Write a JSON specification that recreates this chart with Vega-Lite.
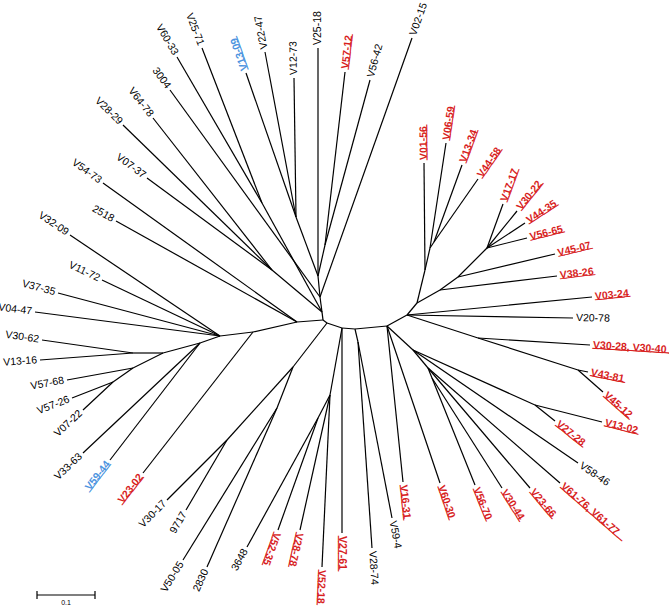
{
  "$schema": "https://vega.github.io/schema/vega-lite/v6.json",
  "width": 669,
  "height": 608,
  "padding": 0,
  "autosize": "none",
  "background": "white",
  "config": {"view": {"stroke": null}},
  "datasets": {
    "nodes": [
      {"id": "P0", "x": -7, "y": 0},
      {"id": "P0b", "parent": "P0", "x": -3, "y": -3},
      {"id": "A1", "parent": "P0b", "x": 12, "y": -8},
      {"id": "A2", "parent": "A1", "x": 25, "y": -9},
      {"id": "A3", "parent": "A2", "x": 57, "y": -6},
      {"id": "A4", "parent": "A3", "x": 77, "y": 5},
      {"id": "A5", "parent": "A4", "x": 87, "y": 17},
      {"id": "UA", "parent": "P0", "x": -8, "y": 8},
      {"id": "UR", "parent": "UA", "x": -10, "y": 23},
      {"id": "UB", "parent": "UR", "x": -12, "y": 44},
      {"id": "U3", "parent": "UB", "x": -34, "y": 103},
      {"id": "U5", "parent": "UB", "x": -5, "y": 75},
      {"id": "U6", "parent": "UA", "x": -68, "y": 117},
      {"id": "U7", "parent": "UA", "x": -58, "y": 50},
      {"id": "V60-33", "label": "V60-33", "parent": "U6", "x": -153, "y": 263},
      {"id": "V25-71", "label": "V25-71", "parent": "U6", "x": -128, "y": 272},
      {"id": "V13-09", "label": "V13-09", "hl": "blue", "parent": "U3", "x": -84, "y": 247},
      {"id": "V22-47", "label": "V22-47", "parent": "U3", "x": -65, "y": 268},
      {"id": "V12-73", "label": "V12-73", "parent": "U3", "x": -36, "y": 242},
      {"id": "V25-18", "label": "V25-18", "parent": "UB", "x": -12, "y": 272},
      {"id": "V57-12", "label": "V57-12", "hl": "red", "parent": "U5", "x": 15, "y": 248},
      {"id": "V56-42", "label": "V56-42", "parent": "U5", "x": 40, "y": 240},
      {"id": "V02-15", "label": "V02-15", "parent": "UR", "x": 82, "y": 282},
      {"id": "3004", "label": "3004", "parent": "UR", "x": -160, "y": 230},
      {"id": "V64-78", "label": "V64-78", "parent": "U7", "x": -177, "y": 202},
      {"id": "V28-29", "label": "V28-29", "parent": "U7", "x": -207, "y": 195},
      {"id": "V07-37", "label": "V07-37", "parent": "U7", "x": -183, "y": 142},
      {"id": "PL", "parent": "P0", "x": -33, "y": -2},
      {"id": "PL3", "parent": "PL", "x": -77, "y": -12},
      {"id": "L0", "parent": "PL3", "x": -110, "y": -16},
      {"id": "L4", "parent": "L0", "x": -130, "y": -23},
      {"id": "L5", "parent": "L4", "x": -167, "y": -33},
      {"id": "L1", "parent": "L5", "x": -197, "y": -33},
      {"id": "L6", "parent": "L5", "x": -197, "y": -48},
      {"id": "L7", "parent": "L6", "x": -217, "y": -62},
      {"id": "V54-73", "label": "V54-73", "parent": "PL", "x": -227, "y": 137},
      {"id": "2518", "label": "2518", "parent": "PL", "x": -214, "y": 99},
      {"id": "V23-02", "label": "V23-02", "hl": "red", "parent": "PL3", "x": -187, "y": -153},
      {"id": "V32-09", "label": "V32-09", "parent": "L0", "x": -260, "y": 85},
      {"id": "V11-72", "label": "V11-72", "parent": "L0", "x": -228, "y": 40},
      {"id": "V37-35", "label": "V37-35", "parent": "L0", "x": -272, "y": 27},
      {"id": "V04-47", "label": "V04-47", "parent": "L0", "x": -295, "y": 8},
      {"id": "V33-63", "label": "V33-63", "parent": "L4", "x": -247, "y": -133},
      {"id": "V59-44", "label": "V59-44", "hl": "blue", "parent": "L4", "x": -220, "y": -140},
      {"id": "V30-62", "label": "V30-62", "parent": "L1", "x": -288, "y": -20},
      {"id": "V13-16", "label": "V13-16", "parent": "L1", "x": -290, "y": -40},
      {"id": "V57-68", "label": "V57-68", "parent": "L6", "x": -263, "y": -60},
      {"id": "V57-26", "label": "V57-26", "parent": "L7", "x": -258, "y": -78},
      {"id": "V07-22", "label": "V07-22", "parent": "L7", "x": -247, "y": -90},
      {"id": "LL2", "parent": "P0b", "x": -37, "y": -47},
      {"id": "LL1", "parent": "LL2", "x": -103, "y": -120},
      {"id": "LL3", "parent": "LL2", "x": -53, "y": -88},
      {"id": "V30-17", "label": "V30-17", "parent": "LL1", "x": -163, "y": -180},
      {"id": "9717", "label": "9717", "parent": "LL1", "x": -144, "y": -190},
      {"id": "V50-05", "label": "V50-05", "parent": "LL3", "x": -147, "y": -240},
      {"id": "2830", "label": "2830", "parent": "LL3", "x": -123, "y": -247},
      {"id": "NB1", "parent": "A1", "x": 0, "y": -75},
      {"id": "NB2", "parent": "NB1", "x": -12, "y": -98},
      {"id": "V52-18", "label": "V52-18", "hl": "red", "parent": "NB1", "x": -8, "y": -247},
      {"id": "V28-78", "label": "V28-78", "hl": "red", "parent": "NB1", "x": -30, "y": -210},
      {"id": "3648", "label": "3648", "parent": "NB2", "x": -83, "y": -227},
      {"id": "V52-35", "label": "V52-35", "hl": "red", "parent": "NB2", "x": -52, "y": -210},
      {"id": "V27-61", "label": "V27-61", "hl": "red", "parent": "A1", "x": 12, "y": -213},
      {"id": "NV", "parent": "A2", "x": 28, "y": -22},
      {"id": "V28-74", "label": "V28-74", "parent": "NV", "x": 42, "y": -228},
      {"id": "V59-4", "label": "V59-4", "parent": "NV", "x": 62, "y": -198},
      {"id": "V16-31", "label": "V16-31", "hl": "red", "parent": "A3", "x": 73, "y": -162},
      {"id": "V60-30", "label": "V60-30", "hl": "red", "parent": "A3", "x": 110, "y": -163},
      {"id": "N7", "parent": "A3", "x": 83, "y": -30},
      {"id": "N9", "parent": "N7", "x": 205, "y": -85},
      {"id": "V27-28", "label": "V27-28", "hl": "red", "parent": "N9", "x": 225, "y": -101},
      {"id": "V13-02", "label": "V13-02", "hl": "red", "parent": "N9", "x": 272, "y": -102},
      {"id": "V58-46", "label": "V58-46", "parent": "N7", "x": 248, "y": -143},
      {"id": "NA", "parent": "N7", "x": 98, "y": -48},
      {"id": "V61-76, V61-77", "label": "V61-76, V61-77", "hl": "red", "parent": "NA", "x": 230, "y": -163},
      {"id": "V23-66", "label": "V23-66", "hl": "red", "parent": "NA", "x": 200, "y": -168},
      {"id": "NC", "parent": "NA", "x": 102, "y": -58},
      {"id": "V30-44", "label": "V30-44", "hl": "red", "parent": "NC", "x": 172, "y": -168},
      {"id": "V56-70", "label": "V56-70", "hl": "red", "parent": "NC", "x": 145, "y": -165},
      {"id": "N6", "parent": "A4", "x": 148, "y": -18},
      {"id": "V03-24", "label": "V03-24", "hl": "red", "parent": "A4", "x": 262, "y": 23},
      {"id": "V20-78", "label": "V20-78", "parent": "A4", "x": 243, "y": 2},
      {"id": "V30-28, V30-40", "label": "V30-28, V30-40", "hl": "red", "parent": "N6", "x": 260, "y": -25},
      {"id": "N5", "parent": "N6", "x": 248, "y": -50},
      {"id": "V43-81", "label": "V43-81", "hl": "red", "parent": "N5", "x": 258, "y": -52},
      {"id": "V45-12", "label": "V45-12", "hl": "red", "parent": "N5", "x": 273, "y": -72},
      {"id": "N1", "parent": "A5", "x": 95, "y": 50},
      {"id": "N1b", "parent": "N1", "x": 100, "y": 72},
      {"id": "N1c", "parent": "N1b", "x": 104, "y": 78},
      {"id": "V01-56", "label": "V01-56", "hl": "red", "parent": "N1", "x": 94, "y": 157},
      {"id": "V06-59", "label": "V06-59", "hl": "red", "parent": "N1b", "x": 116, "y": 177},
      {"id": "V13-34", "label": "V13-34", "hl": "red", "parent": "N1c", "x": 132, "y": 155},
      {"id": "V44-58", "label": "V44-58", "hl": "red", "parent": "N1c", "x": 148, "y": 141},
      {"id": "N2", "parent": "A5", "x": 110, "y": 30},
      {"id": "V38-26", "label": "V38-26", "hl": "red", "parent": "N2", "x": 227, "y": 44},
      {"id": "N3", "parent": "N2", "x": 128, "y": 43},
      {"id": "V45-07", "label": "V45-07", "hl": "red", "parent": "N3", "x": 225, "y": 66},
      {"id": "N4", "parent": "N3", "x": 157, "y": 72},
      {"id": "V17-17", "label": "V17-17", "hl": "red", "parent": "N4", "x": 173, "y": 116},
      {"id": "V30-22", "label": "V30-22", "hl": "red", "parent": "N4", "x": 187, "y": 109},
      {"id": "V44-35", "label": "V44-35", "hl": "red", "parent": "N4", "x": 195, "y": 97},
      {"id": "V56-65", "label": "V56-65", "hl": "red", "parent": "N4", "x": 197, "y": 82}
    ],
    "scalebar": [
      {"x": -293, "y": -275, "x2": -235, "y2": -275},
      {"x": -293, "y": -271, "x2": -293, "y2": -279},
      {"x": -235, "y": -271, "x2": -235, "y2": -279}
    ],
    "scaletext": [
      {"x": -264, "y": -283, "t": "0.1"}
    ]
  },
  "encoding": {
    "x": {"field": "x", "type": "quantitative", "scale": {"domain": [-330, 339], "nice": false, "zero": false}, "axis": null},
    "y": {"field": "y", "type": "quantitative", "scale": {"domain": [-288, 320], "nice": false, "zero": false}, "axis": null}
  },
  "layer": [
    {
      "data": {"name": "nodes"},
      "transform": [
        {"lookup": "parent", "from": {"data": {"name": "nodes"}, "key": "id", "fields": ["x", "y"]}, "as": ["px", "py"]},
        {"calculate": "atan2(datum.py - datum.y, datum.x - datum.px) * 180 / PI", "as": "a"},
        {"calculate": "datum.a < -110 || datum.a > 112", "as": "flip"},
        {"calculate": "datum.flip ? (datum.a < 0 ? datum.a + 180 : datum.a - 180) : datum.a", "as": "ta"},
        {"calculate": "datum.label ? replace(datum.label, regexp('.', 'g'), '_') : ''", "as": "ul"}
      ],
      "layer": [
        {
          "transform": [{"filter": "datum.parent != null"}],
          "mark": {"type": "rule", "color": "black", "strokeWidth": 1.2},
          "encoding": {"x2": {"field": "px"}, "y2": {"field": "py"}}
        },
        {
          "transform": [{"filter": "datum.label != null && !datum.hl && !datum.flip"}],
          "mark": {"type": "text", "align": "left", "baseline": "middle", "dx": 3, "font": "Liberation Sans", "fontSize": 10.5, "color": "black"},
          "encoding": {"text": {"field": "label"}, "angle": {"field": "ta", "type": "quantitative", "scale": null}}
        },
        {
          "transform": [{"filter": "datum.label != null && !datum.hl && datum.flip"}],
          "mark": {"type": "text", "align": "right", "baseline": "middle", "dx": -3, "font": "Liberation Sans", "fontSize": 10.5, "color": "black"},
          "encoding": {"text": {"field": "label"}, "angle": {"field": "ta", "type": "quantitative", "scale": null}}
        },
        {
          "transform": [{"filter": "datum.label != null && datum.hl && !datum.flip"}],
          "mark": {"type": "text", "align": "left", "baseline": "middle", "dx": 3, "font": "Liberation Sans", "fontSize": 10.5, "fontWeight": "bold"},
          "encoding": {
            "text": {"field": "label"},
            "angle": {"field": "ta", "type": "quantitative", "scale": null},
            "color": {"field": "hl", "type": "nominal", "scale": {"domain": ["red", "blue"], "range": ["#d81e1e", "#4d94e0"]}, "legend": null}
          }
        },
        {
          "transform": [{"filter": "datum.label != null && datum.hl && datum.flip"}],
          "mark": {"type": "text", "align": "right", "baseline": "middle", "dx": -3, "font": "Liberation Sans", "fontSize": 10.5, "fontWeight": "bold"},
          "encoding": {
            "text": {"field": "label"},
            "angle": {"field": "ta", "type": "quantitative", "scale": null},
            "color": {"field": "hl", "type": "nominal", "scale": {"domain": ["red", "blue"], "range": ["#d81e1e", "#4d94e0"]}, "legend": null}
          }
        },
        {
          "transform": [{"filter": "datum.label != null && datum.hl && !datum.flip"}],
          "mark": {"type": "text", "align": "left", "baseline": "middle", "dx": 3, "dy": -1, "font": "Liberation Sans", "fontSize": 10.5, "fontWeight": "bold", "strokeWidth": 0.5},
          "encoding": {
            "text": {"field": "ul"},
            "angle": {"field": "ta", "type": "quantitative", "scale": null},
            "color": {"field": "hl", "type": "nominal", "scale": {"domain": ["red", "blue"], "range": ["#d81e1e", "#4d94e0"]}, "legend": null},
            "stroke": {"field": "hl", "type": "nominal", "scale": {"domain": ["red", "blue"], "range": ["#d81e1e", "#4d94e0"]}, "legend": null}
          }
        },
        {
          "transform": [{"filter": "datum.label != null && datum.hl && datum.flip"}],
          "mark": {"type": "text", "align": "right", "baseline": "middle", "dx": -3, "dy": -1, "font": "Liberation Sans", "fontSize": 10.5, "fontWeight": "bold", "strokeWidth": 0.5},
          "encoding": {
            "text": {"field": "ul"},
            "angle": {"field": "ta", "type": "quantitative", "scale": null},
            "color": {"field": "hl", "type": "nominal", "scale": {"domain": ["red", "blue"], "range": ["#d81e1e", "#4d94e0"]}, "legend": null},
            "stroke": {"field": "hl", "type": "nominal", "scale": {"domain": ["red", "blue"], "range": ["#d81e1e", "#4d94e0"]}, "legend": null}
          }
        }
      ]
    },
    {
      "data": {"name": "scalebar"},
      "mark": {"type": "rule", "color": "black", "strokeWidth": 1.2},
      "encoding": {"x2": {"field": "x2"}, "y2": {"field": "y2"}}
    },
    {
      "data": {"name": "scaletext"},
      "mark": {"type": "text", "align": "center", "baseline": "middle", "font": "Liberation Sans", "fontSize": 7, "color": "black"},
      "encoding": {"text": {"field": "t"}}
    }
  ]
}
